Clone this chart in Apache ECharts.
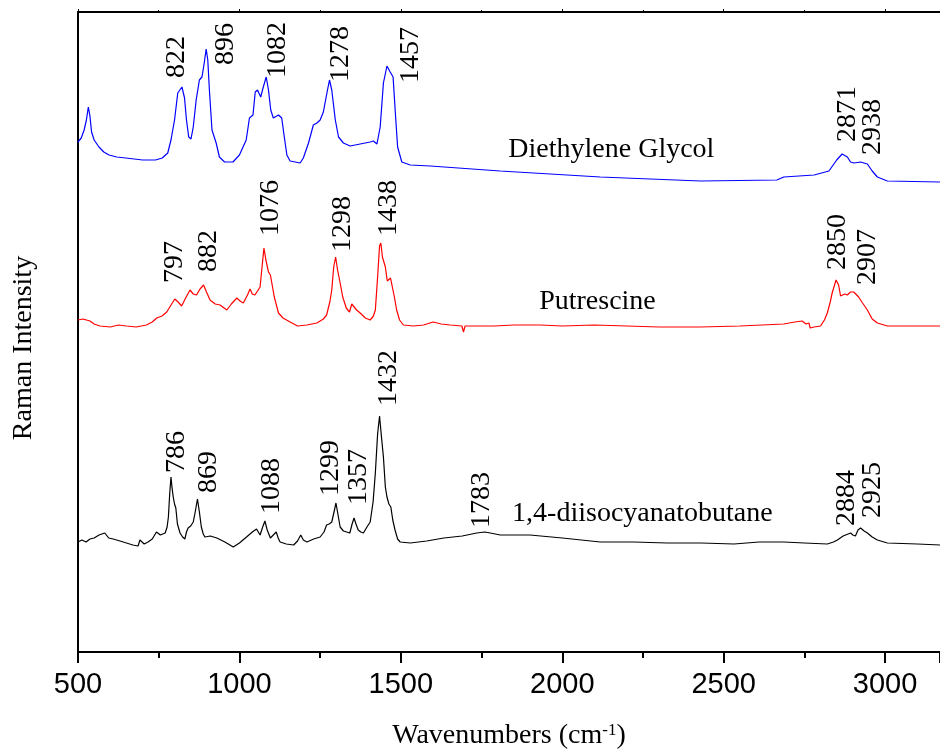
<!DOCTYPE html>
<html>
<head>
<meta charset="utf-8">
<script src="https://cdn.jsdelivr.net/npm/echarts@6/dist/echarts.min.js"></script>
<style>html,body{margin:0;padding:0;background:#fff}#c{width:940px;height:756px}</style>
</head>
<body>
<div id="c"></div>
<script>
// Wavenumber range and ticks
const xMin = 500, xMax = 3170, xStep = 500;

// Diethylene Glycol (blue) [wavenumber, intensity a.u.]
const glycol = [[500,510],[510,514],[519,522],[526,532],[532,545],[537,536],[542,520],[550,512],[565,505],[580,500],[596,497],[620,495],[648,494],[700,492],[740,492],[761,494],[778,499],[788,512],[799,532],[809,559],[814,557],[822,565],[830,554],[836,532],[843,515],[850,513],[857,525],[866,552],[876,572],[884,575],[891,589],[897,603],[902,592],[907,562],[915,522],[928,509],[938,495],[954,490],[980,490],[1000,497],[1021,512],[1031,534],[1042,537],[1049,560],[1056,562],[1066,555],[1074,565],[1083,575],[1090,562],[1097,542],[1105,534],[1121,537],[1131,534],[1139,515],[1147,497],[1157,491],[1188,489],[1198,494],[1214,509],[1229,527],[1240,529],[1250,532],[1260,540],[1271,559],[1279,572],[1286,562],[1297,532],[1307,515],[1322,509],[1343,506],[1374,508],[1405,510],[1415,511],[1426,508],[1436,525],[1446,569],[1457,586],[1467,580],[1476,575],[1483,539],[1490,505],[1503,490],[1529,487],[1591,486],[1808,481],[2118,475],[2428,471],[2665,472],[2686,475],[2780,477],[2826,481],[2850,492],[2867,498],[2883,495],[2893,490],[2903,489],[2924,490],[2945,488],[2960,481],[2976,475],[3007,471],[3170,470]];

// Putrescine (red)
const putrescine = [[500,332],[515,333],[537,331],[550,328],[568,326],[600,325],[625,327],[650,326],[680,325],[712,327],[730,330],[744,334],[760,336],[775,340],[790,348],[800,353],[810,350],[821,346],[835,355],[847,362],[857,358],[867,357],[878,363],[889,367],[898,360],[909,352],[925,348],[940,347],[961,342],[975,348],[992,354],[1002,351],[1012,349],[1025,357],[1033,363],[1040,358],[1048,357],[1058,362],[1064,365],[1070,385],[1076,404],[1082,392],[1090,380],[1096,377],[1108,355],[1121,339],[1135,334],[1157,330],[1180,326],[1209,327],[1240,329],[1260,333],[1270,337],[1280,350],[1286,362],[1292,385],[1298,395],[1304,382],[1312,369],[1320,355],[1331,344],[1341,340],[1348,348],[1354,347],[1363,342],[1374,339],[1390,334],[1405,332],[1415,336],[1421,342],[1428,375],[1434,406],[1438,409],[1443,395],[1452,385],[1458,371],[1462,369],[1468,374],[1472,373],[1480,355],[1487,342],[1496,332],[1508,327],[1539,326],[1570,327],[1600,330],[1625,328],[1653,327],[1689,326],[1694,320],[1699,326],[1740,326],[1788,326],[1850,327],[1932,327],[2000,326],[2100,327],[2200,326],[2300,325],[2428,325],[2550,326],[2686,328],[2720,330],[2743,331],[2755,328],[2764,329],[2768,324],[2780,325],[2800,326],[2812,332],[2821,339],[2830,350],[2836,359],[2848,372],[2856,367],[2862,356],[2867,354],[2875,358],[2883,357],[2893,360],[2903,360],[2918,355],[2930,349],[2945,342],[2960,333],[2976,329],[3007,326],[3170,326]];

// 1,4-diisocyanatobutane (black)
const diisocyanate = [[500,110],[512,112],[525,110],[537,113],[550,114],[565,117],[583,119],[595,114],[609,113],[630,111],[650,109],[670,107],[686,106],[692,112],[697,113],[705,108],[717,110],[730,113],[743,120],[755,117],[770,119],[776,125],[780,135],[784,158],[788,175],[791,165],[795,155],[799,148],[803,144],[808,128],[816,119],[824,115],[831,113],[836,120],[841,124],[849,126],[857,130],[863,140],[870,153],[876,140],[882,125],[888,118],[893,115],[910,116],[930,114],[955,110],[981,105],[1000,109],[1022,115],[1040,120],[1053,123],[1058,121],[1064,117],[1072,125],[1079,131],[1086,122],[1096,114],[1105,117],[1114,120],[1120,114],[1126,110],[1145,108],[1168,107],[1180,111],[1190,117],[1198,112],[1209,110],[1230,113],[1250,115],[1262,120],[1270,127],[1278,128],[1286,130],[1293,140],[1299,149],[1305,138],[1312,125],[1322,121],[1332,120],[1342,119],[1349,128],[1355,134],[1361,128],[1368,122],[1376,120],[1384,119],[1395,125],[1405,130],[1414,150],[1421,179],[1428,218],[1434,236],[1440,215],[1446,195],[1452,165],[1457,155],[1463,148],[1469,145],[1475,132],[1482,122],[1490,113],[1498,110],[1529,109],[1580,111],[1633,114],[1690,116],[1735,119],[1760,120],[1777,119],[1808,117],[1900,117],[2000,114],[2118,110],[2220,110],[2325,109],[2430,109],[2532,108],[2610,110],[2686,110],[2750,109],[2821,108],[2840,110],[2852,112],[2870,116],[2893,119],[2900,117],[2908,116],[2916,122],[2924,124],[2935,121],[2945,119],[2960,115],[2976,112],[3007,109],[3100,108],[3170,107]];

// Peak annotations: [wavenumber, intensity, text]
const peakLabels = [
  [807,595,'822'],[956,608,'896'],[1117,602,'1082'],[1315,598,'1278'],[1529,597,'1457'],[2884,538,'2871'],[2961,525,'2938'],
  [798,390,'797'],[906,401,'882'],[1098,444,'1076'],[1321,428,'1298'],[1461,444,'1438'],[2853,410,'2850'],[2946,395,'2907'],
  [804,200,'786'],[906,180,'869'],[1101,166,'1088'],[1284,184,'1299'],[1368,175,'1357'],[1461,274,'1432'],[1749,152,'1783'],[2881,154,'2884'],[2961,162,'2925']
];
// Spectrum names: [wavenumber, intensity, text]
const nameLabels = [[2152,502,'Diethylene Glycol'],[2109,350,'Putrescine'],[2248,138,'1,4-diisocyanatobutane']];

const serif = 'Liberation Serif';
const chart = echarts.init(document.getElementById('c'));
const lineSeries = (data, color) => ({
  type: 'line', data, showSymbol: false, symbol: 'none', smooth: false,
  lineStyle: { color, width: 1.2 }, z: 2, silent: true
});
const textSeries = (data, rotate) => ({
  type: 'scatter', data, symbolSize: 0, silent: true, z: 5,
  itemStyle: { opacity: 1 },
  label: { show: true, position: 'inside', rotate, color: '#000', opacity: 1,
    fontFamily: serif, fontSize: 28, formatter: p => p.data[2] }
});
chart.setOption({
  animation: false,
  backgroundColor: '#fff',
  grid: { left: 78, right: 0, top: 12, bottom: 104, containLabel: false },
  xAxis: [{
    type: 'value', min: xMin, max: xMax, interval: xStep, position: 'bottom',
    axisLine: { show: true, onZero: false, lineStyle: { color: '#000', width: 2 } },
    axisTick: { show: true, inside: false, length: 11, lineStyle: { color: '#000', width: 2 } },
    minorTick: { show: true, splitNumber: 2, length: 6, lineStyle: { color: '#000', width: 2 } },
    axisLabel: { color: '#000', fontFamily: 'Liberation Sans', fontSize: 29, margin: 18,
      showMaxLabel: false, formatter: v => String(v) },
    splitLine: { show: false },
    name: '{a|Wavenumbers (cm}{s|-1}{a|)}', nameLocation: 'middle', nameGap: 70,
    nameTextStyle: { rich: {
      a: { fontFamily: serif, fontSize: 28, color: '#000', verticalAlign: 'bottom' },
      s: { fontFamily: serif, fontSize: 17, color: '#000', verticalAlign: 'top' }
    } }
  }, {
    type: 'value', min: xMin, max: xMax, interval: xStep, position: 'top',
    axisLine: { show: true, onZero: false, lineStyle: { color: '#000', width: 2 } },
    axisTick: { show: true, inside: false, length: 3, lineStyle: { color: '#000', width: 1 } },
    minorTick: { show: true, splitNumber: 2, length: 2, lineStyle: { color: '#000', width: 1 } },
    axisLabel: { show: false }, splitLine: { show: false }
  }],
  yAxis: {
    type: 'value', min: 0, max: 640,
    axisLine: { show: true, onZero: false, lineStyle: { color: '#000', width: 2 } },
    axisTick: { show: false }, axisLabel: { show: false }, splitLine: { show: false },
    name: 'Raman Intensity', nameLocation: 'middle', nameGap: 40,
    nameTextStyle: { fontFamily: serif, fontSize: 28, color: '#000', padding: [0, 32, 0, 0] }
  },
  series: [
    lineSeries(glycol, '#0000ff'),
    lineSeries(putrescine, '#ff0000'),
    lineSeries(diisocyanate, '#000000'),
    textSeries(peakLabels, 90),
    textSeries(nameLabels, 0)
  ]
});
</script>
</body>
</html>
